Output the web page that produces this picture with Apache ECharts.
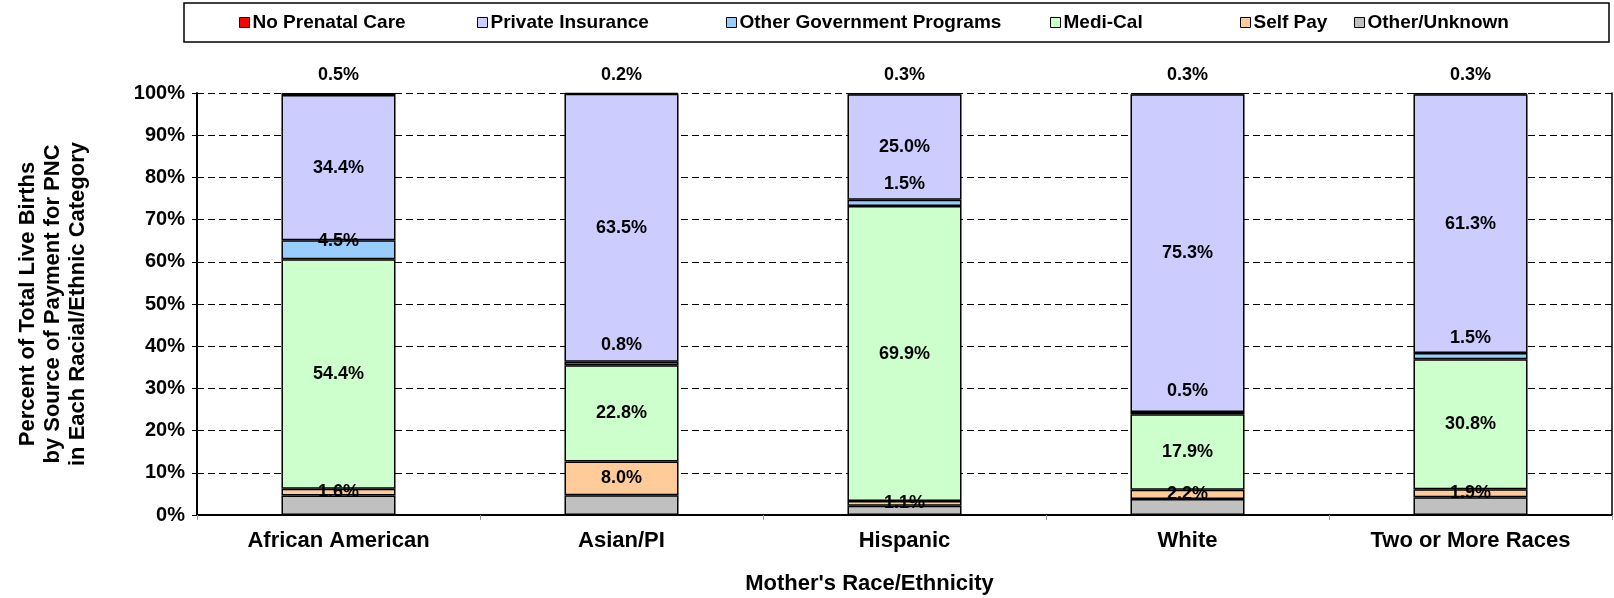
<!DOCTYPE html>
<html>
<head>
<meta charset="utf-8">
<title>Source of Payment for PNC by Race/Ethnicity</title>
<script src="https://cdn.jsdelivr.net/npm/echarts@6/dist/echarts.min.js"></script>
<style>
  html, body { margin: 0; padding: 0; background: #fff; }
  #chart { width: 1614px; height: 598px; }
</style>
</head>
<body>
<div id="chart"></div>
<script>
// categories (x axis)
var categories = ['African American', 'Asian/PI', 'Hispanic', 'White', 'Two or More Races'];

// percent of births per payment source
var noPrenatalCare   = [0.5, 0.2, 0.3, 0.3, 0.3];
var privateInsurance = [34.4, 63.5, 25.0, 75.3, 61.3];
var otherGovernment  = [4.5, 0.8, 1.5, 0.5, 1.5];
var mediCal          = [54.4, 22.8, 69.9, 17.9, 30.8];
var selfPay          = [1.6, 8.0, 1.1, 2.2, 1.9];
var otherUnknown     = [4.6, 4.7, 2.2, 3.8, 4.2];

var yTicks = [0, 10, 20, 30, 40, 50, 60, 70, 80, 90, 100];

// the thin "other government" segments have their labels nudged up, as in the original
var otherGovLabelShift = [-9, -18, -19, -22, -18];

var FONT = '"Liberation Sans", Arial, sans-serif';

function pct(p) { return p.value.toFixed(1) + '%'; }

function bar(name, data, color, labelPos, shifts) {
  var s = {
    name: name,
    type: 'bar',
    stack: 'total',
    barWidth: '40.3%',
    data: shifts ? data.map(function (v, i) {
      return { value: v, label: { offset: [0, shifts[i]] } };
    }) : data,
    itemStyle: { color: color, borderColor: '#000', borderWidth: 1.5 },
    label: { show: false }
  };
  if (labelPos) {
    s.label = {
      show: true,
      position: labelPos,
      distance: 9,
      formatter: pct,
      color: '#000',
      fontFamily: FONT,
      fontWeight: 'bold',
      fontSize: 18
    };
  }
  return s;
}

// drawn bottom up
var series = [
  bar('Other/Unknown', otherUnknown, '#C0C0C0', null),
  bar('Self Pay', selfPay, '#FFCC99', 'inside'),
  bar('Medi-Cal', mediCal, '#CCFFCC', 'inside'),
  bar('Other Government Programs', otherGovernment, '#99CCFF', 'inside', otherGovLabelShift),
  bar('Private Insurance', privateInsurance, '#CCCCFF', 'inside'),
  bar('No Prenatal Care', noPrenatalCare, '#FF0000', 'top')
];

// one legend per item so the spacing matches the original
var legendItems = [
  ['No Prenatal Care', 239],
  ['Private Insurance', 477],
  ['Other Government Programs', 726],
  ['Medi-Cal', 1050],
  ['Self Pay', 1240],
  ['Other/Unknown', 1354]
];
var legends = legendItems.map(function (it) {
  return {
    data: [it[0]],
    left: it[1],
    top: 13,
    padding: 0,
    itemWidth: 10,
    itemHeight: 10,
    icon: 'rect',
    itemStyle: { borderColor: '#000', borderWidth: 1 },
    textStyle: { fontFamily: FONT, fontWeight: 'bold', fontSize: 19, color: '#000', padding: [0, 0, 0, -2] }
  };
});

var chart = echarts.init(document.getElementById('chart'), null, { renderer: 'canvas' });

chart.setOption({
  animation: false,
  backgroundColor: '#fff',
  legend: legends,
  graphic: [{
    type: 'rect',
    shape: { x: 184, y: 3, width: 1425, height: 39 },
    style: { fill: 'none', stroke: '#000', lineWidth: 1.5 },
    z: -1
  }],
  grid: { left: 197, right: 2, top: 93, bottom: 83, containLabel: false, outerBoundsMode: 'none' },
  xAxis: {
    type: 'category',
    data: categories,
    name: "Mother's Race/Ethnicity",
    nameLocation: 'middle',
    nameGap: 58,
    nameTextStyle: { fontFamily: FONT, fontWeight: 'bold', fontSize: 22, color: '#000', padding: [0, 70, 0, 0] },
    axisLine: { lineStyle: { color: '#000', width: 2 } },
    axisTick: { show: true, alignWithLabel: false, length: 5, lineStyle: { color: '#999' } },
    axisLabel: { fontFamily: FONT, fontWeight: 'bold', fontSize: 22, color: '#000', margin: 15 }
  },
  yAxis: [{
    type: 'value',
    min: 0,
    max: 100,
    interval: 10,
    name: 'Percent of Total Live Births\nby Source of Payment for PNC\nin Each Racial/Ethnic Category',
    nameLocation: 'middle',
    nameRotate: 90,
    nameGap: 107,
    nameTextStyle: { fontFamily: FONT, fontWeight: 'bold', fontSize: 22, color: '#000', lineHeight: 25 },
    axisLine: { show: true, lineStyle: { color: '#000', width: 2 } },
    axisTick: { show: true, length: 5, lineStyle: { color: '#000' } },
    axisLabel: {
      fontFamily: FONT, fontWeight: 'bold', fontSize: 20, color: '#000', margin: 12,
      formatter: function (v) { return yTicks.indexOf(v) >= 0 ? v + '%' : ''; }
    },
    splitLine: { show: true, lineStyle: { color: '#000', type: [7, 4], width: 1 } }
  }, {
    type: 'value',
    position: 'right',
    min: 0,
    max: 100,
    interval: 10,
    axisLine: { show: true, lineStyle: { color: '#000', width: 1.5 } },
    axisTick: { show: false },
    axisLabel: { show: false },
    splitLine: { show: false }
  }],
  series: series
});
</script>
</body>
</html>
